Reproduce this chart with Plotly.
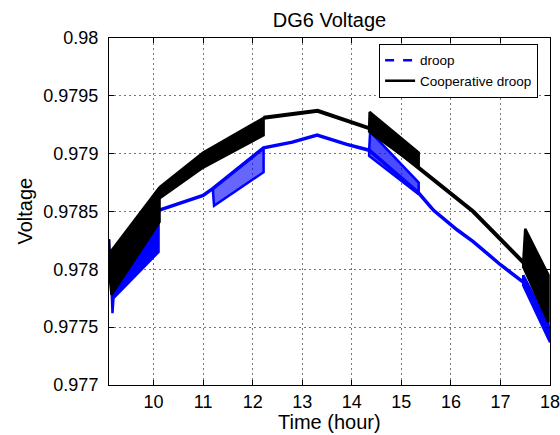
import plotly.graph_objects as go

# ---------------- data ----------------
# Cooperative droop: main path (hours, volts)
coop_t = [12.22, 13.31, 14.35, 15.35, 16.45, 17.46]
coop_v = [0.97931, 0.97937, 0.97922, 0.97888, 0.97850, 0.97806]

# Cooperative droop: fast-oscillation envelopes (upper / lower edges)
coopA_up_t = [9.10, 9.11, 10.12]
coopA_up_v = [0.97826, 0.97814, 0.97871]
coopA_lo_t = [9.10, 9.15, 10.12]
coopA_lo_v = [0.97800, 0.97778, 0.97841]

coopB_up_t = [10.12, 11.00, 12.22]
coopB_up_v = [0.97871, 0.97901, 0.97931]
coopB_lo_t = [10.14, 11.00, 12.22]
coopB_lo_v = [0.97862, 0.97888, 0.97916]

coopC_up_t = [14.35, 14.36, 15.35]
coopC_up_v = [0.97922, 0.97936, 0.97901]
coopC_lo_t = [14.35, 15.35]
coopC_lo_v = [0.97919, 0.97888]

coopD_up_t = [17.46, 17.50, 17.97]
coopD_up_v = [0.97806, 0.97835, 0.97795]
coopD_lo_t = [17.46, 17.97]
coopD_lo_v = [0.97802, 0.97754]

# Droop: main path
droop_t = [10.10, 10.50, 11.00, 11.20, 12.22, 12.80, 13.30, 13.90, 14.35,
           15.35, 15.65, 16.13, 16.45, 17.00, 17.46]
droop_v = [0.97851, 0.97857, 0.97864, 0.97870, 0.97905, 0.97910, 0.97916, 0.97908, 0.97903,
           0.97866, 0.97851, 0.97834, 0.97824, 0.97804, 0.97789]

# Droop: fast-oscillation envelopes
droopA_up_t = [9.10, 9.12, 10.10]
droopA_up_v = [0.97826, 0.97800, 0.97850]
droopA_lo_t = [9.10, 9.15, 9.17, 9.19, 9.60, 10.10]
droopA_lo_v = [0.97795, 0.97786, 0.97762, 0.97775, 0.97793, 0.97815]

droopB_up_t = [11.20, 12.22]
droopB_up_v = [0.97870, 0.97905]
droopB_lo_t = [11.20, 11.22, 12.22]
droopB_lo_v = [0.97866, 0.97855, 0.97884]

droopC_up_t = [14.35, 14.37, 15.35]
droopC_up_v = [0.97903, 0.97919, 0.97875]
droopC_lo_t = [14.35, 15.35]
droopC_lo_v = [0.97898, 0.97865]

droopD_up_t = [17.46, 17.97]
droopD_up_v = [0.97795, 0.97753]
droopD_lo_t = [17.46, 18.00]
droopD_lo_v = [0.97786, 0.97737]

x_ticks = [10, 11, 12, 13, 14, 15, 16, 17, 18]
y_ticks = [0.977, 0.9775, 0.978, 0.9785, 0.979, 0.9795, 0.98]
y_tick_text = ["0.977", "0.9775", "0.978", "0.9785", "0.979", "0.9795", "0.98"]

BLUE = "#0000ff"
BLACK = "#000000"
FONT = "Liberation Sans, Arial, sans-serif"

fig = go.Figure()


def band(up_t, up_v, lo_t, lo_v, color, fillcolor, width):
    xs = list(up_t) + list(reversed(lo_t))
    ys = list(up_v) + list(reversed(lo_v))
    return go.Scatter(x=xs + [xs[0]], y=ys + [ys[0]], mode="lines", fill="toself",
                      fillcolor=fillcolor, line=dict(color=color, width=width),
                      showlegend=False, hoverinfo="skip")


# droop (blue) first
for ut, uv, lt, lv, fc in [
    (droopA_up_t, droopA_up_v, droopA_lo_t, droopA_lo_v, BLUE),
    (droopB_up_t, droopB_up_v, droopB_lo_t, droopB_lo_v, "rgba(0,0,255,0.6)"),
    (droopC_up_t, droopC_up_v, droopC_lo_t, droopC_lo_v, "rgba(0,0,255,0.7)"),
    (droopD_up_t, droopD_up_v, droopD_lo_t, droopD_lo_v, BLUE),
]:
    fig.add_trace(band(ut, uv, lt, lv, BLUE, fc, 2.5))
fig.add_trace(go.Scatter(x=droop_t, y=droop_v, mode="lines",
                         line=dict(color=BLUE, width=3.5), showlegend=False))

# cooperative droop (black) on top
for ut, uv, lt, lv in [
    (coopA_up_t, coopA_up_v, coopA_lo_t, coopA_lo_v),
    (coopB_up_t, coopB_up_v, coopB_lo_t, coopB_lo_v),
    (coopC_up_t, coopC_up_v, coopC_lo_t, coopC_lo_v),
    (coopD_up_t, coopD_up_v, coopD_lo_t, coopD_lo_v),
]:
    fig.add_trace(band(ut, uv, lt, lv, BLACK, BLACK, 2.5))
fig.add_trace(go.Scatter(x=coop_t, y=coop_v, mode="lines",
                         line=dict(color=BLACK, width=4), showlegend=False))

# legend entries
fig.add_trace(go.Scatter(x=[None], y=[None], mode="lines", name="droop",
                         line=dict(color=BLUE, width=2.5, dash="dash")))
fig.add_trace(go.Scatter(x=[None], y=[None], mode="lines", name="Cooperative droop",
                         line=dict(color=BLACK, width=2.5)))

fig.update_layout(
    width=560, height=435,
    margin=dict(l=109, r=10, t=38, b=50),
    paper_bgcolor="white", plot_bgcolor="white",
    font=dict(family=FONT, size=18, color="black"),
    title=dict(text="DG6 Voltage", x=0.5, xref="paper", y=0.955, yref="container",
               yanchor="middle", xanchor="center", font=dict(size=20, family=FONT)),
    legend=dict(x=0.973, y=0.983, xanchor="right", yanchor="top",
                bgcolor="white", bordercolor="black", borderwidth=1,
                font=dict(size=13.5, family=FONT), tracegroupgap=0),
    showlegend=True,
    annotations=[
        dict(text="Time (hour)", xref="paper", yref="paper", x=0.5, y=0,
             yshift=-37, xanchor="center", yanchor="middle",
             showarrow=False, font=dict(size=20, family=FONT)),
        dict(text="Voltage", xref="paper", yref="paper", x=0, y=0.5,
             xshift=-85, xanchor="center", yanchor="middle", textangle=-90,
             showarrow=False, font=dict(size=20, family=FONT)),
    ],
)

fig.update_xaxes(
    range=[9.1, 18], tickvals=x_ticks, ticks="inside", ticklen=5, tickcolor="black",
    showline=True, linecolor="black", linewidth=1, mirror="ticks",
    showgrid=True, gridcolor="#777777", griddash="2px,3px", gridwidth=1,
    zeroline=False, ticklabelstandoff=0, automargin=False, ticklabeloverflow="allow",
)
fig.update_yaxes(
    range=[0.977, 0.98], tickvals=y_ticks, ticktext=y_tick_text, ticks="inside",
    ticklen=5, tickcolor="black",
    showline=True, linecolor="black", linewidth=1, mirror="ticks",
    showgrid=True, gridcolor="#777777", griddash="2px,3px", gridwidth=1,
    zeroline=False, ticklabelstandoff=6, automargin=False, ticklabeloverflow="allow",
)

fig.write_html(
    "out.html",
    config={"displayModeBar": False},
    post_script="document.body.style.margin='0';document.body.style.overflow='hidden';",
)
